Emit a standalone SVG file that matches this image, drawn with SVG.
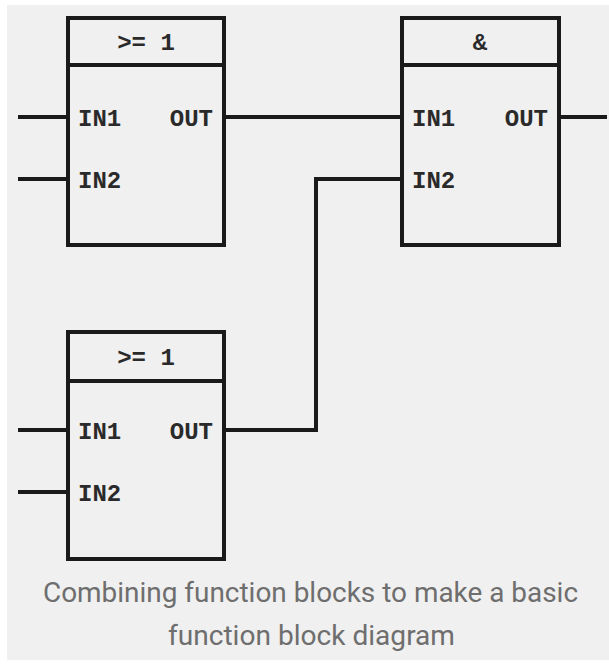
<svg xmlns="http://www.w3.org/2000/svg" width="609" height="665" viewBox="0 0 609 665">
<style>
.box{fill:none;stroke:#1a1a1a;stroke-width:4}
.wire{fill:none;stroke:#1a1a1a;stroke-width:4}
.pin{font-family:"Liberation Mono",monospace;font-weight:bold;font-size:24px;fill:#2a2a2a}
.cap{font-family:Roboto,"Open Sans",sans-serif;font-size:27px;fill:#6e6e6e;text-anchor:middle}
</style>
<rect x="0" y="0" width="609" height="665" fill="#ffffff"/>
<rect x="7" y="5" width="602" height="655" fill="#f0f0f0"/>
<g id="connectors">
<path class="wire" d="M18 117H68"/>
<path class="wire" d="M18 179H68"/>
<path class="wire" d="M224 117H402"/>
<path class="wire" d="M559 117H607"/>
<path class="wire" d="M18 430H68"/>
<path class="wire" d="M18 492H68"/>
<path class="wire" d="M224 430H316V179H402"/>
</g>
<g id="or1">
<rect class="box" x="68" y="18" width="156" height="227"/>
<path class="box" d="M68 65H224"/>
<text class="pin" x="146" y="50" text-anchor="middle">&gt;= 1</text>
<text class="pin" x="78" y="126">IN1</text>
<text class="pin" x="78" y="188">IN2</text>
<text class="pin" x="213" y="126" text-anchor="end">OUT</text>
</g>
<g id="and1">
<rect class="box" x="402" y="18" width="157" height="227"/>
<path class="box" d="M402 65H559"/>
<text class="pin" x="480" y="50" text-anchor="middle">&amp;</text>
<text class="pin" x="412" y="126">IN1</text>
<text class="pin" x="412" y="188">IN2</text>
<text class="pin" x="548" y="126" text-anchor="end">OUT</text>
</g>
<g id="or2">
<rect class="box" x="68" y="332" width="156" height="227"/>
<path class="box" d="M68 381H224"/>
<text class="pin" x="146" y="365" text-anchor="middle">&gt;= 1</text>
<text class="pin" x="78" y="439">IN1</text>
<text class="pin" x="78" y="501">IN2</text>
<text class="pin" x="213" y="439" text-anchor="end">OUT</text>
</g>
<text class="cap" x="310.5" y="602" textLength="535" lengthAdjust="spacingAndGlyphs">Combining function blocks to make a basic</text>
<text class="cap" x="311.5" y="645" textLength="287" lengthAdjust="spacingAndGlyphs">function block diagram</text>
</svg>
